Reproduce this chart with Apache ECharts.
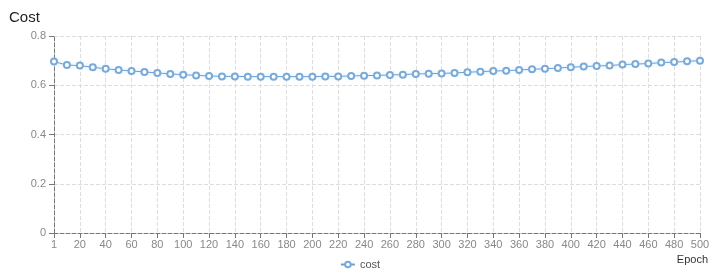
<!DOCTYPE html>
<html>
<head>
<meta charset="utf-8">
<script src="https://cdn.jsdelivr.net/npm/echarts@6/dist/echarts.min.js"></script>
<style>html,body{margin:0;padding:0;background:#fff}#c{width:720px;height:276px}</style>
</head>
<body>
<div id="c"></div>
<script>
const epochs = [1,10,20,30,40,50,60,70,80,90,100,110,120,130,140,150,160,170,180,190,200,210,220,230,240,250,260,270,280,290,300,310,320,330,340,350,360,370,380,390,400,410,420,430,440,450,460,470,480,490,500];
const cost = [0.696,0.682,0.680,0.673,0.667,0.662,0.658,0.654,0.650,0.646,0.643,0.640,0.638,0.636,0.636,0.635,0.635,0.635,0.635,0.635,0.635,0.636,0.636,0.638,0.639,0.640,0.642,0.643,0.646,0.647,0.648,0.650,0.653,0.655,0.658,0.659,0.662,0.665,0.667,0.670,0.673,0.676,0.678,0.680,0.684,0.686,0.688,0.692,0.694,0.697,0.700];
const yTicks = [0, 0.2, 0.4, 0.6, 0.8];

const chart = echarts.init(document.getElementById('c'), null, {renderer:'canvas'});
const FONT = 'Liberation Sans, Arial, sans-serif';
chart.setOption({
  animation: false,
  textStyle: {fontFamily: FONT},
  title: {text: 'Cost', left: 4, top: 5, textStyle: {fontSize: 15, fontWeight: 'normal', color: '#222', fontFamily: FONT}},
  grid: {left: 54, right: 20, top: 36, bottom: 43, containLabel: false},
  legend: {data: ['cost'], bottom: 1, left: 'center', itemWidth: 14, itemHeight: 7, textStyle: {fontSize: 11, color: '#555'}},
  xAxis: {
    type: 'category', data: epochs, boundaryGap: false,
    name: 'Epoch', nameLocation: 'end', nameGap: 0,
    nameTextStyle: {align: 'right', verticalAlign: 'top', padding: [21, -8, 0, 0], fontSize: 11, color: '#333'},
    axisLine: {lineStyle: {color: '#777', type: 'dashed'}},
    axisTick: {alignWithLabel: true, interval: 1, lineStyle: {color: '#777'}},
    axisLabel: {interval: 1, color: '#888', fontSize: 11, margin: 6},
    splitLine: {show: true, interval: 1, lineStyle: {color: '#ddd', type: 'dashed'}}
  },
  yAxis: {
    type: 'value', min: yTicks[0], max: yTicks[yTicks.length-1], interval: 0.2,
    axisLine: {show: true, lineStyle: {color: '#777', type: 'dashed'}},
    axisTick: {show: true, lineStyle: {color: '#777'}},
    axisLabel: {color: '#888', fontSize: 11},
    splitLine: {lineStyle: {color: '#ddd', type: 'dashed'}}
  },
  series: [{
    name: 'cost', type: 'line', data: cost,
    symbol: 'emptyCircle', symbolSize: 6,
    itemStyle: {color: '#7aaad8', borderWidth: 1},
    lineStyle: {width: 1, color: '#6a9fd2', shadowColor: 'rgba(120,190,240,0.6)', shadowBlur: 4}
  }]
});
</script>
</body>
</html>
